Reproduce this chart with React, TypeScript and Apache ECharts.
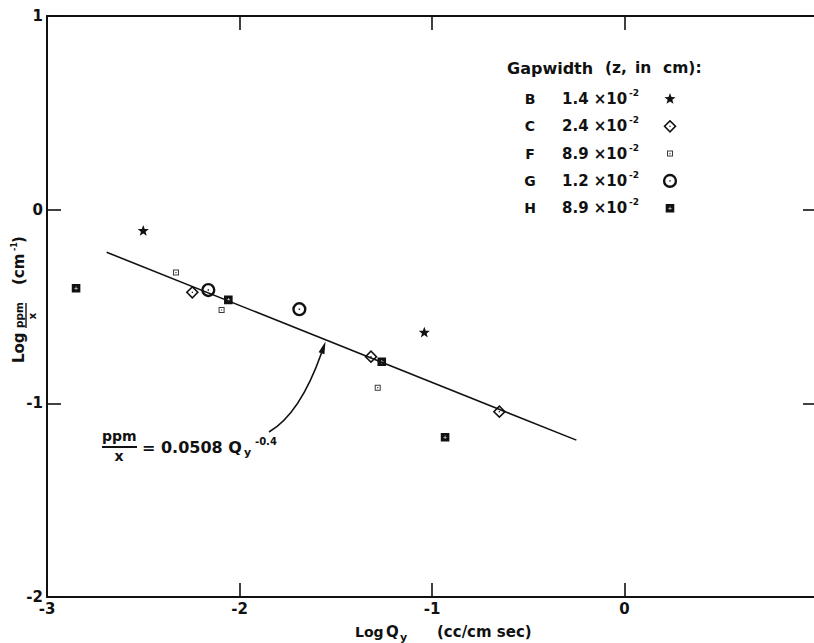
import React, { useEffect, useRef } from 'react';
import * as echarts from 'echarts';

const FONT = '"DejaVu Sans", "Liberation Sans", sans-serif';
const INK = '#111';

// ---- data ----
const seriesNames = ['B', 'C', 'F', 'G', 'H'];
const gapValues = ['1.4', '2.4', '8.9', '1.2', '8.9'];
const gapExponent = '-2';
const pointsB = [[-2.5, -0.11], [-1.04, -0.635]];
const pointsC = [[-2.245, -0.427], [-1.317, -0.759], [-0.65, -1.043]];
const pointsF = [[-2.33, -0.325], [-2.093, -0.518], [-1.282, -0.919]];
const pointsG = [[-2.162, -0.415], [-1.689, -0.514]];
const pointsH = [[-2.849, -0.406], [-2.058, -0.466], [-1.261, -0.785], [-0.932, -1.175]];
const fitLine = [[-2.69, -0.22], [-0.25, -1.19]];
const xRange = [-3, 1];
const yRange = [-2, 1];
const tickStep = 1;

const seriesData: Record<string, number[][]> = { B: pointsB, C: pointsC, F: pointsF, G: pointsG, H: pointsH };

// ---- symbols, drawn in a padded 20x20 box (1 unit = 1px at size 20) ----
const BOX = 'M0 0 M20 20 ';
const SYM: Record<string, string> = {
  B: 'path://' + BOX + 'M10 4.1 L11.45 8.0 L15.6 8.15 L12.35 10.75 L13.45 14.8 L10 12.45 L6.55 14.8 L7.65 10.75 L4.4 8.15 L8.55 8.0 Z',
  C: 'path://' + BOX + 'M10 3.4 L16.6 10 L10 16.6 L3.4 10 Z M10 5.6 L5.6 10 L10 14.4 L14.4 10 Z M9.4 9.4 L10.6 9.4 L10.6 10.6 L9.4 10.6 Z',
  F: 'path://' + BOX + 'M7 7 L13 7 L13 13 L7 13 Z M8 8 L8 12 L12 12 L12 8 Z M9.4 9.4 L10.6 9.4 L10.6 10.6 L9.4 10.6 Z',
  G: 'path://' + BOX + 'M2.9 10 A7.1 7.1 0 1 1 17.1 10 A7.1 7.1 0 1 1 2.9 10 Z M5.3 10 A4.7 4.7 0 1 0 14.7 10 A4.7 4.7 0 1 0 5.3 10 Z M9.3 9.3 L10.7 9.3 L10.7 10.7 L9.3 10.7 Z',
  H: 'path://' + BOX + 'M5.7 5.7 L14.3 5.7 L14.3 14.3 L5.7 14.3 Z M9.7 8.2 L9.7 9.7 L8.2 9.7 L8.2 10.3 L9.7 10.3 L9.7 11.8 L10.3 11.8 L10.3 10.3 L11.8 10.3 L11.8 9.7 L10.3 9.7 L10.3 8.2 Z',
};
const symColor: Record<string, string> = { B: INK, C: INK, F: '#3a3a3a', G: INK, H: INK };

const tickFmt = (v: number) => (v === xRange[1] ? '' : v < 0 ? '-' + -v : String(v));
const yTickFmt = (v: number) => (v < 0 ? '-' + -v : String(v));

const axisLine = { onZero: false, lineStyle: { color: INK, width: 2 } };
const axisTick = { inside: true, length: 14, lineStyle: { color: INK, width: 1.6 } };
const labelStyle = { color: INK, fontFamily: FONT, fontWeight: 'bold', fontSize: 15, lineHeight: 11 };

const txt = (text: string, x: number, y: number, fontSize: number, align = 'left', extra: any = {}) => ({
  type: 'text',
  x,
  y,
  silent: true,
  style: { text, fill: INK, fontFamily: FONT, fontWeight: 'bold', fontSize, align, verticalAlign: 'middle', ...extra },
});

const rowY = (i: number) => 99 + i * 27.3;

const legendTexts = [
  txt('Gapwidth', 507, 68, 16),
  txt('(z,', 605, 68, 15.5),
  txt('in', 635, 68, 15.5),
  txt('cm):', 663, 68, 15.5),
  ...seriesNames.map((n, i) => txt(n, 530, rowY(i), 14, 'center')),
  ...gapValues.map((v, i) => txt(`${v} ×10`, 562, rowY(i), 15)),
  ...gapValues.map((_, i) => txt(gapExponent, 629, rowY(i) - 6, 9)),
];

const yAxisName = {
  type: 'group',
  x: 19,
  y: 298,
  rotation: Math.PI / 2,
  children: [
    txt('Log', -65, 0, 15),
    txt('ppm', -30, 0, 10.5),
    { type: 'line', silent: true, shape: { x1: -30, y1: 7, x2: -5, y2: 7 }, style: { stroke: INK, lineWidth: 1.4 } },
    txt('x', -18, 12.5, 10.5, 'center'),
    txt('(cm', 13, 0, 15),
    txt('-1', 47, -5, 8),
    txt(')', 55, 0, 15),
  ],
};

const xAxisName = [
  txt('Log', 355, 632, 14),
  txt('Q', 386, 632, 15),
  txt('y', 400, 637, 11),
  txt('(cc/cm sec)', 437, 632, 15),
];

const equation = [
  txt('ppm', 102, 436, 14),
  { type: 'line', silent: true, shape: { x1: 102, y1: 447, x2: 137, y2: 447 }, style: { stroke: INK, lineWidth: 2 } },
  txt('x', 119, 456, 14, 'center'),
  txt('= 0.0508 Q', 142, 447, 16),
  txt('y', 244, 452, 11),
  txt('-0.4', 255, 441, 10),
  {
    type: 'bezierCurve',
    silent: true,
    shape: { x1: 269, y1: 432, x2: 321.5, y2: 353, cpx1: 300, cpy1: 414 },
    style: { stroke: INK, lineWidth: 1.6, fill: null },
  },
  {
    type: 'polygon',
    silent: true,
    shape: { points: [[325.5, 341.5], [318.6, 352.2], [324.4, 354.3]] },
    style: { fill: INK },
  },
];

const option: any = {
  animation: false,
  backgroundColor: '#ffffff',
  textStyle: { fontFamily: FONT },
  grid: { left: 47, top: 16, width: 770, height: 581, containLabel: false, outerBoundsMode: 'none' },
  xAxis: [
    {
      type: 'value', gridIndex: 0, min: xRange[0], max: xRange[1], interval: tickStep, position: 'bottom',
      axisLine, axisTick, splitLine: { show: false },
      axisLabel: { ...labelStyle, margin: 6, formatter: tickFmt },
    },
    {
      type: 'value', gridIndex: 0, min: xRange[0], max: xRange[1], interval: tickStep, position: 'top',
      axisLine, axisTick, splitLine: { show: false }, axisLabel: { show: false },
    },
  ],
  yAxis: [
    {
      type: 'value', gridIndex: 0, min: yRange[0], max: yRange[1], interval: tickStep, position: 'left',
      axisLine, axisTick, splitLine: { show: false },
      axisLabel: { ...labelStyle, margin: 4, formatter: yTickFmt },
    },
    {
      type: 'value', gridIndex: 0, min: yRange[0], max: yRange[1], interval: tickStep, position: 'right',
      axisLine: { ...axisLine, show: false }, axisTick, splitLine: { show: false }, axisLabel: { show: false },
    },
  ],
  legend: {
    data: seriesNames.map((n) => ({ name: n, icon: SYM[n] })),
    orient: 'vertical',
    left: 660,
    top: 89,
    padding: 0,
    itemWidth: 20,
    itemHeight: 20,
    itemGap: 7.3,
    selectedMode: false,
    formatter: () => '',
    textStyle: { color: 'rgba(0,0,0,0)', fontSize: 10 },
  },
  series: [
    {
      type: 'line', name: 'fit', data: fitLine, symbol: 'none', silent: true, z: 2,
      lineStyle: { color: INK, width: 1.6 }, xAxisIndex: 0, yAxisIndex: 0,
    },
    ...seriesNames.map((n) => ({
      type: 'scatter', name: n, data: seriesData[n], symbol: SYM[n], symbolSize: 20, silent: true, z: 3,
      itemStyle: { color: symColor[n], opacity: 1 }, xAxisIndex: 0, yAxisIndex: 0,
      emphasis: { disabled: true },
    })),
  ],
  graphic: [...legendTexts, yAxisName, ...xAxisName, ...equation],
};

export default function App() {
  const ref = useRef<HTMLDivElement>(null);
  useEffect(() => {
    const chart = echarts.init(ref.current as HTMLDivElement, null, { renderer: 'svg' });
    chart.setOption(option);
    return () => chart.dispose();
  }, []);
  return (
    <div
      ref={ref}
      style={{ position: 'fixed', left: 0, top: 0, width: 814, height: 643, background: '#fff' }}
    />
  );
}
